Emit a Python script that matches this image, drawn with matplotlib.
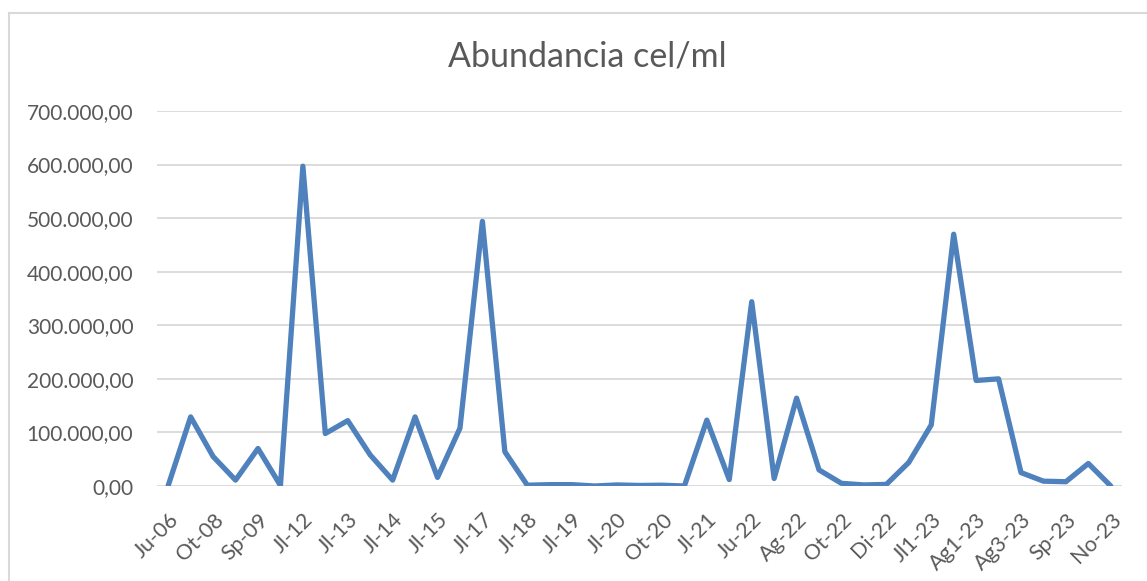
import matplotlib.pyplot as plt
from matplotlib.lines import Line2D
from matplotlib.ticker import FuncFormatter

# Abundancia (cel/ml) per sampling
abundance = [1000, 129000, 55000, 11000, 70000, 1000, 597000, 98000, 122000, 58000,
             11000, 129000, 16000, 108000, 494000, 64000, 1500, 2500, 2500, 0,
             2000, 1000, 1500, 0, 123000, 12000, 344000, 14000, 164000, 30000,
             5000, 2000, 3000, 44000, 114000, 470000, 197000, 200000, 25000, 9000,
             8000, 42000, 0]
# only every second category is labelled on the axis
tickLabels = ['Ju-06', 'Ot-08', 'Sp-09', 'Jl-12', 'Jl-13', 'Jl-14', 'Jl-15', 'Jl-17',
              'Jl-18', 'Jl-19', 'Jl-20', 'Ot-20', 'Jl-21', 'Ju-22', 'Ag-22', 'Ot-22',
              'Di-22', 'Jl1-23', 'Ag1-23', 'Ag3-23', 'Sp-23', 'No-23']
yTicks = [0, 100000, 200000, 300000, 400000, 500000, 600000, 700000]

textColor = '#595959'
gridColor = '#D9D9D9'
lineColor = '#4F81BD'
plt.rcParams['font.family'] = ['Lato', 'DejaVu Sans']

W, H = 1147, 581
fig = plt.figure(figsize=(W / 100, H / 100), dpi=100)
ax = fig.add_axes([157 / W, 1 - 486 / H, (1122 - 157) / W, (486 - 111) / H])

x = list(range(len(abundance)))
ax.plot(x, abundance, color=lineColor, linewidth=3.8,
        solid_joinstyle='round', solid_capstyle='round', zorder=3)

ax.set_xlim(-0.5, len(abundance) - 0.5)
ax.set_ylim(0, 700000)
ax.set_yticks(yTicks)
ax.yaxis.set_major_formatter(FuncFormatter(
    lambda v, p: '{:,.2f}'.format(v).replace(',', 'X').replace('.', ',').replace('X', '.')))
ax.set_xticks(x[::2])
ax.set_xticklabels(tickLabels, rotation=45, ha='right', rotation_mode='anchor')

ax.grid(axis='y', color=gridColor, linewidth=1.3)
ax.set_axisbelow(True)
for s in ax.spines.values():
    s.set_visible(False)
ax.tick_params(axis='y', length=0, pad=17, labelsize=15, labelcolor=textColor)
ax.tick_params(axis='x', length=0, pad=17, labelsize=15.5, labelcolor=textColor)

fig.text(587 / W, 1 - 67 / H, 'Abundancia cel/ml', ha='center', va='baseline',
         fontsize=24.5, color=textColor)

# chart border (only top and left edges are inside the picture)
fig.add_artist(Line2D([8.5 / W, 8.5 / W], [0, 1 - 12.5 / H], color=gridColor,
                      linewidth=1.5, transform=fig.transFigure))
fig.add_artist(Line2D([8.5 / W, 1], [1 - 12.5 / H, 1 - 12.5 / H], color=gridColor,
                      linewidth=1.5, transform=fig.transFigure))

fig.savefig('out.png', dpi=100)
